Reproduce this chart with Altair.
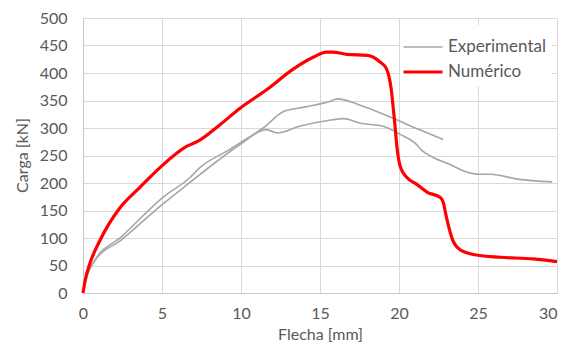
import altair as alt
import pandas as pd

# Experimental curve 1 (upper, ends ~22.8 mm)
x_exp1 = [0, 0.3, 0.63, 2.5, 5.06, 6.77, 7.4, 9.1, 9.94, 11.4, 12.7, 14.0, 15.6, 16.1, 17.5, 19.6, 21.2, 22.8]
y_exp1 = [0, 35, 54, 104, 174, 210, 228, 258, 273, 300, 330, 338, 348, 353, 342, 318, 298, 279]

# Experimental curve 2 (lower, ends ~29.7 mm)
x_exp2 = [0, 0.3, 0.63, 2.5, 5.06, 6.77, 8.5, 9.94, 11.6, 12.3, 13.7, 15.6, 16.5, 17.5, 19.0, 20.1,
          21.0, 21.5, 22.2, 23.2, 24.1, 25.1, 25.8, 27.5, 29.7]
y_exp2 = [0, 35, 54, 98, 162, 201, 240, 270, 297, 291, 303, 314, 317, 309, 303, 288,
          273, 258, 246, 234, 222, 216, 216, 207, 202]

# Numerical curve
x_num = [0, 0.15, 0.44, 1.08, 2.34, 3.6, 4.87, 6.58, 7.28, 8.67, 9.94, 11.6, 13.3, 14.6, 15.4, 15.8,
         16.7, 18.0, 18.8, 19.2, 19.5, 19.7, 19.9, 20.1, 20.5, 21.1, 21.8, 22.6, 22.8, 23.0, 23.4,
         23.9, 24.9, 26.4, 28.5, 30.0]
y_num = [0, 25, 54, 96, 155, 192, 228, 267, 276, 306, 336, 369, 407, 429, 438, 438,
         434, 432, 420, 408, 372, 318, 258, 228, 210, 198, 183, 174, 165, 138, 96,
         78, 69, 65, 62, 57]

series_names = ["Experimental", "Numérico"]
series_colors = ["#a6a6a6", "#ff0000"]
series_widths = [1.6, 3.2]

rows = []
for x, y in zip(x_exp1, y_exp1):
    rows.append({"flecha": x, "carga": y, "serie": "Experimental", "curva": "exp1"})
for x, y in zip(x_exp2, y_exp2):
    rows.append({"flecha": x, "carga": y, "serie": "Experimental", "curva": "exp2"})
for x, y in zip(x_num, y_num):
    rows.append({"flecha": x, "carga": y, "serie": "Numérico", "curva": "num"})
df = pd.DataFrame(rows)

FONT = "Lato"
TXT = "#595959"

legend = alt.Legend(
    title=None, orient="none", legendX=317, legendY=7,
    fillColor="white", padding=6, symbolType="M-1.3,0H1.3", symbolSize=900,
    labelFont=FONT, labelFontSize=17, labelColor=TXT, labelOffset=8,
    rowPadding=0,
)

chart = alt.Chart(df).mark_line(interpolate="monotone").encode(
    x=alt.X("flecha:Q", title="Flecha [mm]",
            scale=alt.Scale(domain=[0, 30], nice=False),
            axis=alt.Axis(values=[0, 5, 10, 15, 20, 25, 30], format="d",
                          labelAlign=alt.expr("datum.value == 30 ? 'right' : 'center'"),
                          titleX=237, titleY=41, titleBaseline="middle")),
    y=alt.Y("carga:Q", title="Carga [kN]",
            scale=alt.Scale(domain=[0, 500], nice=False),
            axis=alt.Axis(values=list(range(0, 501, 50)), format="d",
                          titleX=-61, titleY=137, titleAngle=-90,
                          titleBaseline="middle", titleAlign="center")),
    color=alt.Color("serie:N", scale=alt.Scale(domain=series_names, range=series_colors), legend=legend),
    strokeWidth=alt.StrokeWidth("serie:N", scale=alt.Scale(domain=series_names, range=series_widths), legend=legend),
    detail="curva:N",
    order=alt.Order("flecha:Q"),
).properties(
    width=474, height=275,
    autosize=alt.AutoSizeParams(type="none"),
    padding={"left": 75, "top": 10, "right": 2, "bottom": 51},
).configure_view(
    stroke="#d9d9d9", strokeWidth=1,
).configure_axis(
    grid=True, gridColor="#d9d9d9", gridWidth=1,
    domainColor="#c8c8c8", domainWidth=1,
    ticks=False, labelFont=FONT, labelFontSize=16, labelColor=TXT,
    titleFont=FONT, titleFontSize=16, titleColor=TXT, titleFontWeight="normal",
).configure_axisX(
    labelPadding=12,
).configure_axisY(
    labelPadding=16,
)

chart.save("out.html", embed_options={"renderer": "svg", "actions": False})
